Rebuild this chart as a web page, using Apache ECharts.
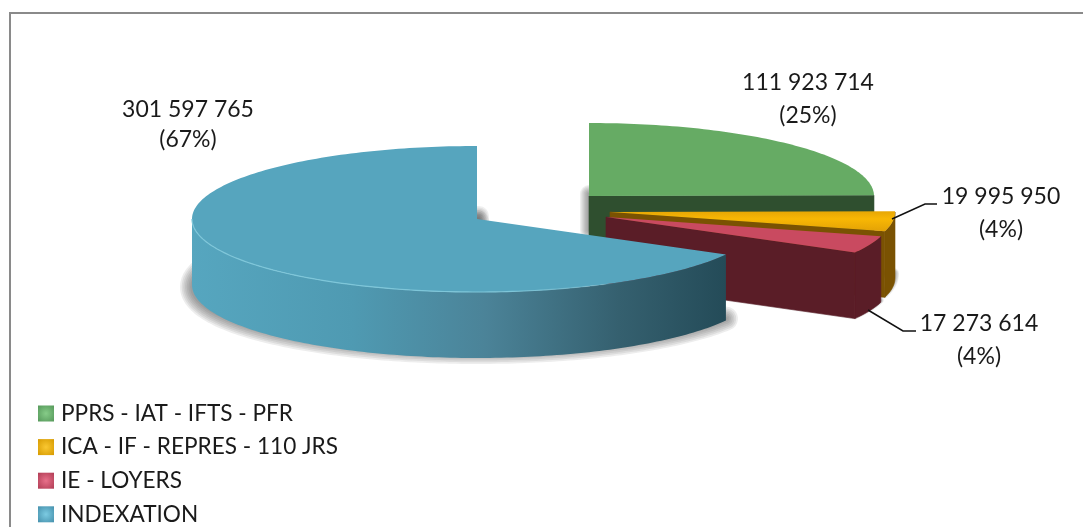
<!DOCTYPE html>
<html><head><meta charset="utf-8">
<style>html,body{margin:0;padding:0;background:#fff}#c{width:1083px;height:527px}</style>
<script src="https://cdn.jsdelivr.net/npm/echarts@6/dist/echarts.min.js"></script>
</head><body><div id="c"></div>
<script>
const categories = ['PPRS - IAT - IFTS - PFR','ICA - IF - REPRES - 110 JRS','IE - LOYERS','INDEXATION'];
const seriesValues = [111923714, 19995950, 17273614, 301597765];

// layout (not data)
const RX = 285, RY = 73, H = 66;
const apexes = [[589,196],[610,212],[606,217],[477,219]];
const labelAt = [[808,99],[1001,213.5],[979,340],[188,124.5]];
const labelLine = [null,[[892,219],[925,204],[937,204]],[[868,310],[903,331],[916,331]],null];
const topCol = ['#66AB64','#F2AE06','#C94A60','#56A5BE'];
const sideCol = ['#2F4F2F','#7A5202','#5A1D27','#2F5C6B'];
const iconHi = ['#86CC88','#FAC832','#E8708A','#7CCBE2'];
const iconLo = ['#55985A','#D69A00','#B03C54','#4590AC'];
const LABEL_FONT = '23px Lato, "Open Sans", sans-serif';

const total = seriesValues.reduce((a,b)=>a+b,0);
const startAngles = []; seriesValues.reduce((acc,v,i)=>{startAngles[i]=acc; return acc+v/total*2*Math.PI;},0);
const endAngle = i => startAngles[i] + seriesValues[i]/total*2*Math.PI;
const fmt = v => String(v).replace(/\B(?=(\d{3})+$)/g,' ');

function arc(c,a0,a1,rx,ry,dy){
  const pts=[], n=Math.max(4,Math.ceil((a1-a0)/0.02));
  for(let k=0;k<=n;k++){const a=a0+(a1-a0)*k/n;
    pts.push([c[0]+rx*Math.sin(a), c[1]-ry*Math.cos(a)+(dy||0)]);}
  return pts;
}
// Soft shadow: stacked translucent outlines, widest first, so the tone builds toward the shape.
function softShadow(points,reach,peak){
  const layers=7, out=[];
  for(let k=layers;k>=1;k--) out.push({type:'polygon',silent:true,shape:{points},
    style:{fill:null,stroke:'rgba(70,70,70,'+(peak/layers)+')',lineWidth:2*reach*k/layers,lineJoin:'round'}});
  return out;
}

function renderSlice(i){
  const c=apexes[i], a0=startAngles[i], a1=endAngle(i); let kids=[];
  const p1=arc(c,a1,a1,RX,RY)[0];
  if(i===3){
    kids=kids.concat(softShadow([[c[0],c[1]+68]].concat(arc([c[0],c[1]+68],a0,a1,RX,RY-8)),12,0.7));
    kids=kids.concat(softShadow([[c[0],c[1]-3],[c[0]+2,c[1]-3],[c[0]+2,c[1]],[c[0],c[1]]],10,0.6));
  }
  if(i===0) kids=kids.concat(softShadow([[c[0]+1,c[1]-2],[c[0],c[1]-2],[c[0],c[1]+34],[c[0]+1,c[1]+34]],9,0.65));
  if(i===1) kids=kids.concat(softShadow(arc([c[0],c[1]+62],a0,a1,RX-1,RY).concat([[c[0],c[1]+62]]),5,0.6));
  if(i===2) kids=kids.concat(softShadow(arc([c[0],c[1]+64],a0,a1,RX,RY).concat([[c[0],c[1]+64]]),3,0.5));

  const wA0=Math.max(a0,Math.PI/2), wA1=Math.min(a1,Math.PI*1.5);
  if(wA1>wA0){
    const t=arc(c,wA0,wA1,RX,RY), b=arc(c,wA0,wA1,RX,RY,H).reverse();
    const x0=c[0]+RX*Math.sin(wA1), x1=c[0]+RX*Math.sin(wA0);
    let fill=sideCol[i], stroke=sideCol[i];
    if(i===3){
      fill=new echarts.graphic.LinearGradient(x0,0,x1,0,[
        {offset:0,color:'#56A6BF'},{offset:0.3,color:'#4F9AB2'},{offset:0.55,color:'#4B8398'},
        {offset:0.8,color:'#35606F'},{offset:1,color:'#244B58'}],true);
      stroke=null;
    }
    kids.push({type:'polygon',silent:true,shape:{points:t.concat(b)},style:{fill,stroke,lineWidth:stroke?0.6:0}});
  }
  if(i!==3){
    kids.push({type:'polygon',silent:true,
      shape:{points:[c,p1,[p1[0],p1[1]+H],[c[0],c[1]+H]]},style:{fill:sideCol[i],stroke:sideCol[i],lineWidth:0.6}});
  }
  let top=topCol[i];
  if(i===1) top=new echarts.graphic.LinearGradient(0,c[1],0,c[1]+20,[
    {offset:0,color:'#E8A805'},{offset:0.35,color:'#F8B704'},{offset:1,color:'#E2A106'}],true);
  kids.push({type:'polygon',silent:true,
    shape:{points:[c].concat(arc(c,a0,a1,RX,RY))},style:{fill:top}});
  if(i===3) kids.push({type:'polyline',silent:true,
    shape:{points:arc(c,a0,Math.PI*1.5,RX,RY)},
    style:{fill:null,lineWidth:1.2,stroke:new echarts.graphic.LinearGradient(192,0,700,0,[
      {offset:0,color:'#7EC6D9'},{offset:0.65,color:'#7EC6D9'},{offset:0.85,color:'rgba(126,198,217,0)'},{offset:1,color:'rgba(126,198,217,0)'}],true)}});

  if(labelLine[i]) kids.push({type:'polyline',silent:true,shape:{points:labelLine[i]},
    style:{fill:null,stroke:'#111',lineWidth:1.5}});
  kids.push({type:'text',silent:true,style:{
    x:labelAt[i][0],y:labelAt[i][1],align:'center',verticalAlign:'middle',
    text:fmt(seriesValues[i])+'\n('+Math.round(seriesValues[i]/total*100)+'%)',
    font:LABEL_FONT,lineHeight:i===3?30:33,fill:'#1a1a1a'},z2:50});
  return {type:'group',children:kids};
}

const chart=echarts.init(document.getElementById('c'),null,{renderer:'canvas'});
chart.setOption({
  animation:false,
  backgroundColor:'#fff',
  legend:{orient:'vertical',left:38,top:401,icon:'rect',itemWidth:16,itemHeight:16,itemGap:8.6,
    textStyle:{fontFamily:'Lato',fontSize:22.6,color:'#1a1a1a',lineHeight:25,padding:[0,0,0,2]},
    selectedMode:false,padding:0,
    data:categories.map((n,i)=>({name:n,itemStyle:{color:{type:'radial',x:.5,y:.5,r:.7,
      colorStops:[{offset:0,color:iconHi[i]},{offset:1,color:iconLo[i]}]}}}))},
  graphic:[
    {type:'polyline',silent:true,shape:{points:[[10,527],[10,13],[1083,13]]},
     style:{fill:null,stroke:'#8a8a8a',lineWidth:2}}
  ],
  series:categories.map((name,i)=>({
    type:'custom',name,coordinateSystem:'none',z:2+i,
    itemStyle:{color:topCol[i]},
    data:[seriesValues[i]],
    renderItem:()=>renderSlice(i)
  }))
});
</script></body></html>
